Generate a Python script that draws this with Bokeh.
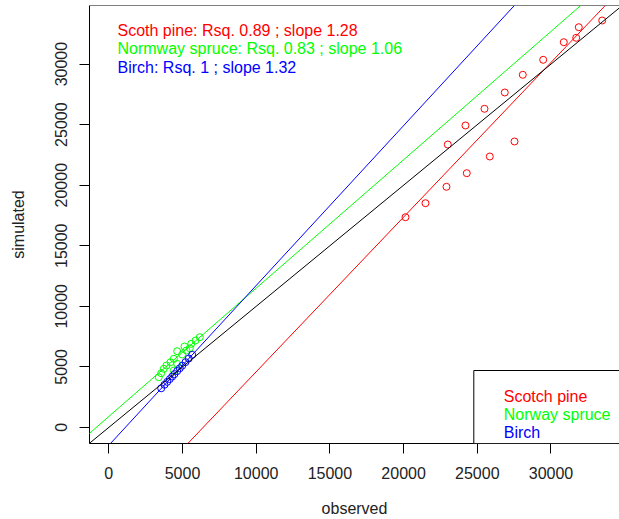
from bokeh.plotting import figure
from bokeh.models import Range1d, Slope, Label, BoxAnnotation, FixedTicker, Span
from bokeh.embed import file_html
from bokeh.resources import INLINE

# ---------------- data ----------------
pine_obs = [33474, 31886, 31710, 30868, 29471, 28087, 26866, 25489, 24199, 22999,
            27524, 25848, 24288, 22910, 21486, 20129]
pine_sim = [33600, 33047, 32172, 31809, 30355, 29116, 27655, 26309, 24930, 23361,
            23609, 22370, 20991, 19868, 18514, 17357]

spruce_obs = [6174, 5882, 5590, 5495, 5136, 4640, 4980, 4410, 4186, 3915, 3731, 3555,
              3392, 4640, 4410, 5271]
spruce_sim = [7448, 7176, 6903, 6540, 6680, 6292, 6020, 5665, 5384, 5112, 4839, 4476,
              4145, 5252, 4699, 6350]

birch_obs = [3555, 3779, 3962, 4138, 4301, 4457, 4640, 4817, 4980, 5204, 5427, 5658]
birch_sim = [3230, 3520, 3760, 3990, 4200, 4400, 4650, 4880, 5100, 5390, 5690, 5990]

line_slopes = [1.277, 1.06, 1.32, 1.0]
line_intercepts = [-8174, 900, -1481, 0]
line_colors = ["#FF0000", "#00FF00", "#0000FF", "#000000"]

x_ticks = [0, 5000, 10000, 15000, 20000, 25000, 30000]
y_ticks = [0, 5000, 10000, 15000, 20000, 25000, 30000]

stat_texts = ["Scoth pine: Rsq. 0.89 ; slope 1.28",
              "Normway spruce: Rsq. 0.83 ; slope 1.06",
              "Birch: Rsq. 1 ; slope 1.32"]
legend_labels = ["Scotch pine", "Norway spruce", "Birch"]
series_colors = ["#FF0000", "#00FF00", "#0000FF"]

# ---------------- layout ----------------
FONT = "Liberation Sans"
W, H = 619, 519
ML, MR, MT, MB = 89, 0, 5, 76
X0, X1 = -1309, 34648
Y0, Y1 = -1329, 34839
FW, FH = W - ML - MR, H - MT - MB


def px_x(page_x):
    return X0 + (page_x - ML) / FW * (X1 - X0)


def px_y(page_y):
    return Y1 - (page_y - MT) / FH * (Y1 - Y0)


p = figure(width=W, height=H, output_backend="svg", toolbar_location=None,
           x_range=Range1d(X0, X1), y_range=Range1d(Y0, Y1),
           min_border_left=ML, min_border_right=MR, min_border_top=MT,
           min_border_bottom=MB, background_fill_color="white",
           border_fill_color="white")
p.outline_line_color = None
p.grid.grid_line_color = None

for ax, ticks in ((p.xaxis, x_ticks), (p.yaxis, y_ticks)):
    ax.ticker = FixedTicker(ticks=ticks)
    ax.axis_line_color = "black"
    ax.axis_line_width = 1
    ax.major_tick_in = 0
    ax.major_tick_out = 10
    ax.major_tick_line_color = "black"
    ax.minor_tick_line_color = None
    ax.major_label_text_font = FONT
    ax.major_label_text_font_size = "16px"
    ax.major_label_text_color = "#222222"
    ax.axis_label_text_font = FONT
    ax.axis_label_text_font_size = "16px"
    ax.axis_label_text_font_style = "normal"
    ax.axis_label_text_color = "#222222"

p.xaxis.axis_label = "observed"
p.yaxis.axis_label = "simulated"
p.xaxis.major_label_standoff = 13
p.xaxis.axis_label_standoff = 18
p.yaxis.major_label_orientation = "vertical"
p.yaxis.major_label_standoff = 12
p.yaxis.axis_label_standoff = 26

# top edge of the plot box (right edge lies outside the picture)
p.add_layout(Span(location=Y1, dimension="width", line_color="black", line_width=1))

# points
p.scatter(pine_obs, pine_sim, marker="circle", size=7, fill_color=None,
          line_color=series_colors[0], line_width=1)
p.scatter(spruce_obs, spruce_sim, marker="circle", size=7, fill_color=None,
          line_color=series_colors[1], line_width=1)
p.scatter(birch_obs, birch_sim, marker="circle", size=7, fill_color=None,
          line_color=series_colors[2], line_width=1)

# regression lines + 1:1
for s, b, c in zip(line_slopes, line_intercepts, line_colors):
    p.add_layout(Slope(gradient=s, y_intercept=b, line_color=c, line_width=1))

# stats text (top-left)
for i, (t, c) in enumerate(zip(stat_texts, series_colors)):
    p.add_layout(Label(x=px_x(117), y=px_y(30 + 18.3 * i), text=t, text_color=c,
                       text_font=FONT, text_font_size="16px",
                       text_baseline="alphabetic", text_align="left"))

# legend box (bottom-right)
p.add_layout(BoxAnnotation(left=px_x(473.3), top=px_y(370), right=X1 + 1000,
                           bottom=Y0, fill_color="white", fill_alpha=1,
                           line_color="black", line_alpha=1, line_width=1))
for i, (t, c) in enumerate(zip(legend_labels, series_colors)):
    p.add_layout(Label(x=px_x(503.3), y=px_y(396 + 18.2 * i), text=t, text_color=c,
                       text_font=FONT, text_font_size="16px",
                       text_baseline="alphabetic", text_align="left"))

open("out.html", "w").write(file_html(p, INLINE))
